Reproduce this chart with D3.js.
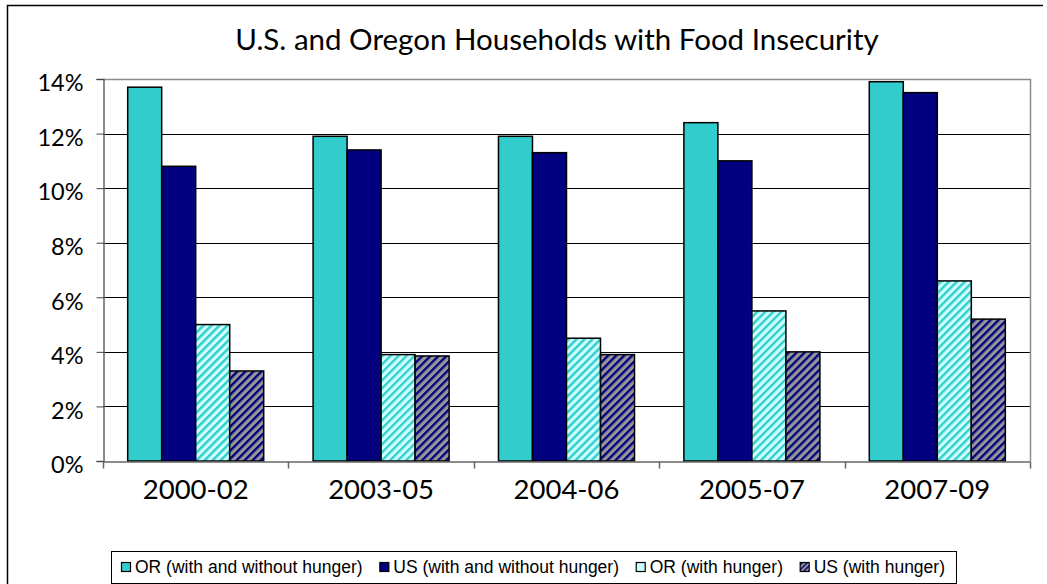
<!DOCTYPE html>
<html>
<head>
<meta charset="utf-8">
<script src="https://cdn.jsdelivr.net/npm/d3@7"></script>
<style>
html,body{margin:0;padding:0;background:#fff;}
svg{display:block;}
</style>
</head>
<body>
<svg id="chart" width="1047" height="584"></svg>
<script>
const categories = ["2000-02", "2003-05", "2004-06", "2005-07", "2007-09"];
const seriesNames = ["OR (with and without hunger)", "US (with and without hunger)", "OR (with hunger)", "US (with hunger)"];
const orTotal = [13.7, 11.9, 11.9, 12.4, 13.9];
const usTotal = [10.8, 11.4, 11.3, 11.0, 13.5];
const orHunger = [5.0, 3.9, 4.5, 5.5, 6.6];
const usHunger = [3.3, 3.85, 3.9, 4.0, 5.2];
const yTicks = [0, 2, 4, 6, 8, 10, 12, 14];
const title = "U.S. and Oregon Households with Food Insecurity";

const seriesValues = [orTotal, usTotal, orHunger, usHunger];
const fills = ["#33CCCC", "#000080", "url(#hatchOR)", "url(#hatchUS)"];
const legendFills = ["#33CCCC", "#000080", "#CCFFFF", "url(#hatchUSsmall)"];

const svg = d3.select("#chart");
const W = 1047, H = 584;
const plot = {left: 103, right: 1030, top: 79, bottom: 461};

// patterns
const defs = svg.append("defs");
function hatch(id, bg, fg, size) {
  const p = defs.append("pattern").attr("id", id)
    .attr("patternUnits", "userSpaceOnUse")
    .attr("width", size).attr("height", size)
    .attr("patternTransform", "rotate(45)");
  p.append("rect").attr("width", size).attr("height", size).attr("fill", bg);
  p.append("rect").attr("width", size * 0.42).attr("height", size).attr("fill", fg);
}
hatch("hatchOR", "#CCFFFF", "#33CCCC", 5.66);
hatch("hatchUS", "#969696", "#000080", 5.66);
hatch("hatchUSsmall", "#969696", "#000080", 3.5);

// outer border (left + top visible)
svg.append("path").attr("d", `M7.5,${H + 5} L7.5,5.5 L1043,5.5`)
  .attr("fill", "none").attr("stroke", "#000").attr("stroke-width", 1.5);

// scales
const x0 = d3.scaleBand().domain(categories).range([plot.left, plot.right]).paddingInner(0).paddingOuter(0);
const x1 = d3.scaleBand().domain(d3.range(4)).range([0, x0.bandwidth()]).paddingInner(0).paddingOuter(0.726);
const y = d3.scaleLinear().domain([0, 14]).range([plot.bottom, plot.top]);

// gridlines
svg.append("g").selectAll("line").data(yTicks.filter(t => t > 0 && t < 14)).join("line")
  .attr("x1", plot.left).attr("x2", plot.right)
  .attr("y1", d => Math.round(y(d)) + 0.5).attr("y2", d => Math.round(y(d)) + 0.5)
  .attr("stroke", "#000").attr("stroke-width", 1);

// plot area border top & right (gray)
svg.append("path")
  .attr("d", `M${plot.left},${Math.round(y(14)) + 0.5} L${plot.right + 0.5},${Math.round(y(14)) + 0.5} L${plot.right + 0.5},${plot.bottom}`)
  .attr("fill", "none").attr("stroke", "#8c8c8c").attr("stroke-width", 1.5);

// bars
const groups = svg.append("g").selectAll("g").data(categories).join("g")
  .attr("transform", d => `translate(${x0(d)},0)`);
groups.selectAll("rect").data((c, ci) => seriesValues.map((s, si) => ({si, v: s[ci]}))).join("rect")
  .attr("x", d => x1(d.si))
  .attr("width", x1.bandwidth())
  .attr("y", d => y(d.v))
  .attr("height", d => y(0) - y(d.v))
  .attr("fill", d => fills[d.si])
  .attr("stroke", "#000").attr("stroke-width", 1.5);

// y axis
const yAxis = d3.axisLeft(y).tickValues(yTicks).tickFormat(d => d + "%").tickSize(7).tickPadding(13);
const gy = svg.append("g").attr("transform", `translate(${plot.left + 0.5},0)`).call(yAxis);
gy.select(".domain").attr("stroke", "#666").attr("stroke-width", 1.5);
gy.selectAll(".tick line").attr("stroke", "#444");
gy.selectAll(".tick text").attr("font-family", "Lato, 'Open Sans', sans-serif").attr("font-size", 23.5)
  .attr("fill", "#000").attr("dy", "0.5em");

// x axis
const xAxis = d3.axisBottom(x0).tickSize(0).tickPadding(0);
const gx = svg.append("g").attr("transform", `translate(0,${plot.bottom + 0.5})`).call(xAxis);
gx.select(".domain").attr("stroke", "#666").attr("stroke-width", 1.5);
gx.selectAll(".tick text").attr("font-family", "Lato, 'Open Sans', sans-serif").attr("font-size", 27.5)
  .attr("fill", "#000").attr("y", 37).attr("dy", 0);
// category boundary ticks
const bounds = categories.map(c => x0(c)).concat([plot.right]);
gx.append("g").selectAll("line").data(bounds).join("line")
  .attr("x1", d => Math.round(d) + 0.5).attr("x2", d => Math.round(d) + 0.5)
  .attr("y1", 0).attr("y2", 7).attr("stroke", "#666").attr("stroke-width", 1.5);

// title
svg.append("text").attr("x", 557).attr("y", 50).attr("text-anchor", "middle")
  .attr("font-family", "Lato, 'Open Sans', sans-serif").attr("font-size", 29.5)
  .attr("fill", "#000").text(title);

// legend
const lg = svg.append("g");
lg.append("rect").attr("x", 111.5).attr("y", 551.5).attr("width", 845).attr("height", 32)
  .attr("fill", "#fff").attr("stroke", "#000").attr("stroke-width", 1);
const items = lg.selectAll("g.item").data(seriesNames).join("g").attr("class", "item");
items.append("rect").attr("x", 0.5).attr("y", 562.5).attr("width", 9).attr("height", 9)
  .attr("fill", (d, i) => legendFills[i]).attr("stroke", "#000").attr("stroke-width", 1.2);
const texts = items.append("text").attr("x", 14).attr("y", 573)
  .attr("font-family", "'Liberation Sans', Arial, sans-serif").attr("font-size", 17.5)
  .attr("fill", "#000").text(d => d);
// place items sequentially, spreading them across the legend box
const widths = texts.nodes().map(n => n.getComputedTextLength());
const start = 121, end = 945;
const used = widths.reduce((a, b) => a + b, 0) + 14 * widths.length;
const gap = (end - start - used) / (widths.length - 1);
let cx = start;
items.attr("transform", (d, i) => { const t = `translate(${cx},0)`; cx += 14 + widths[i] + gap; return t; });
</script>
</body>
</html>
